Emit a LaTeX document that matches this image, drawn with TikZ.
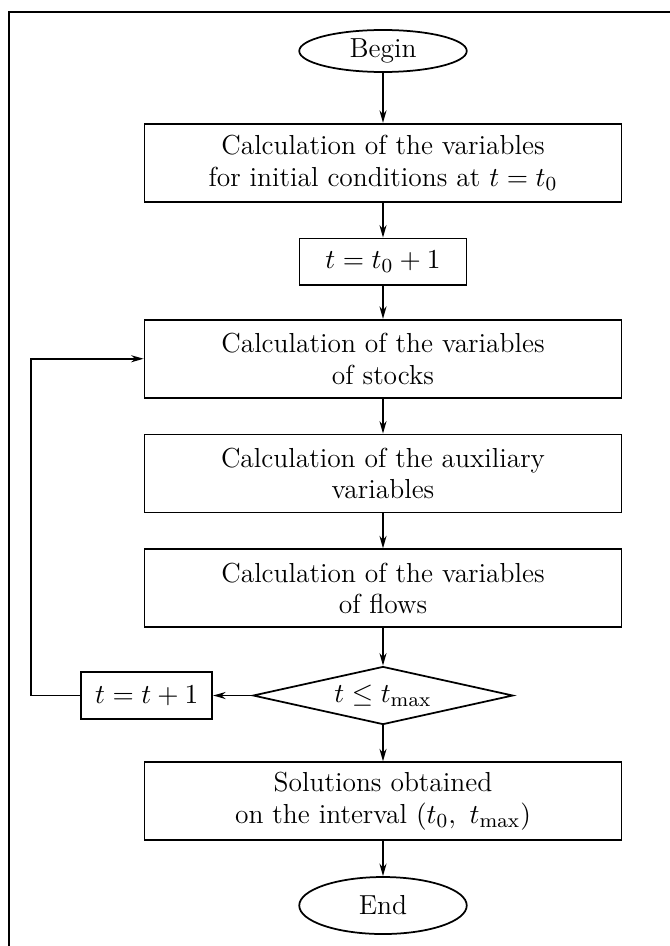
\documentclass[tikz,border=0pt]{standalone}
\usepackage{amsmath}
\usetikzlibrary{shapes.geometric,arrows.meta,positioning}
\tikzset{
    procbox/.style={
        rectangle,                % paso de cálculo
        draw=black,
        line width=0.7pt,
        minimum width=190.8pt,    % ancho común de los bloques grandes
        minimum height=31.2pt,
        inner sep=2pt,
        align=center
    },
    smallbox/.style={
        rectangle,
        draw=black,
        line width=0.7pt,
        minimum height=18.6pt,    % bloque corto de asignación
        inner sep=2pt
    },
    terminal/.style={
        ellipse,                  % inicio / fin
        draw=black,
        line width=0.7pt,
        minimum width=67pt,
        inner sep=0pt
    },
    decision/.style={
        diamond,
        draw=black,
        line width=0.7pt,
        aspect=4,
        minimum width=104pt,
        minimum height=23.2pt,
        inner sep=1pt
    },
    flowarrow/.style={
        -{Stealth[length=5pt,width=2.8pt]},
        line width=0.7pt
    }
}
\begin{document}
\begin{tikzpicture}[x=0.4pt, y=-0.4pt, node distance=14pt,
        every node/.style={font=\fontsize{11}{12.6}\selectfont}]
    \useasboundingbox (0,0) rectangle (670,946);
    % marco
    \draw[line width=0.8pt] (9,946) -- (9,12) -- (670,12);

    \node[terminal, minimum height=16.8pt] (begin) at (383,51) {Begin};
    \node[procbox, below=20pt of begin] (init) {Calculation of the variables\\for initial conditions at $t = t_0$};
    \node[smallbox, minimum width=66.8pt, below=of init] (start) {$t = t_0 + 1$};
    \node[procbox, below=13.2pt of start] (stocks) {Calculation of the variables\\of stocks};
    \node[procbox, below=of stocks] (aux) {Calculation of the auxiliary\\variables};
    \node[procbox, below=of aux] (flows) {Calculation of the variables\\of flows};
    \node[decision, below=15pt of flows] (check) {$t \le t_{\max}$};
    \node[smallbox, minimum width=52.4pt, left=15.6pt of check] (incr) {$t = t + 1$};
    \node[procbox, below=14.4pt of check] (result) {Solutions obtained\\on the interval $(t_0,\ t_{\max})$};
    \node[terminal, minimum height=22.8pt, below=of result] (end) {End};

    \draw[flowarrow] (begin) -- (init);
    \draw[flowarrow] (init) -- (start);
    \draw[flowarrow] (start) -- (stocks);
    \draw[flowarrow] (stocks) -- (aux);
    \draw[flowarrow] (aux) -- (flows);
    \draw[flowarrow] (flows) -- (check);
    \draw[flowarrow] (check) -- (incr);
    \draw[flowarrow] (incr.west) -- ++(-49,0) |- (stocks.west);
    \draw[flowarrow] (check) -- (result);
    \draw[flowarrow] (result) -- (end);
\end{tikzpicture}
\end{document}
